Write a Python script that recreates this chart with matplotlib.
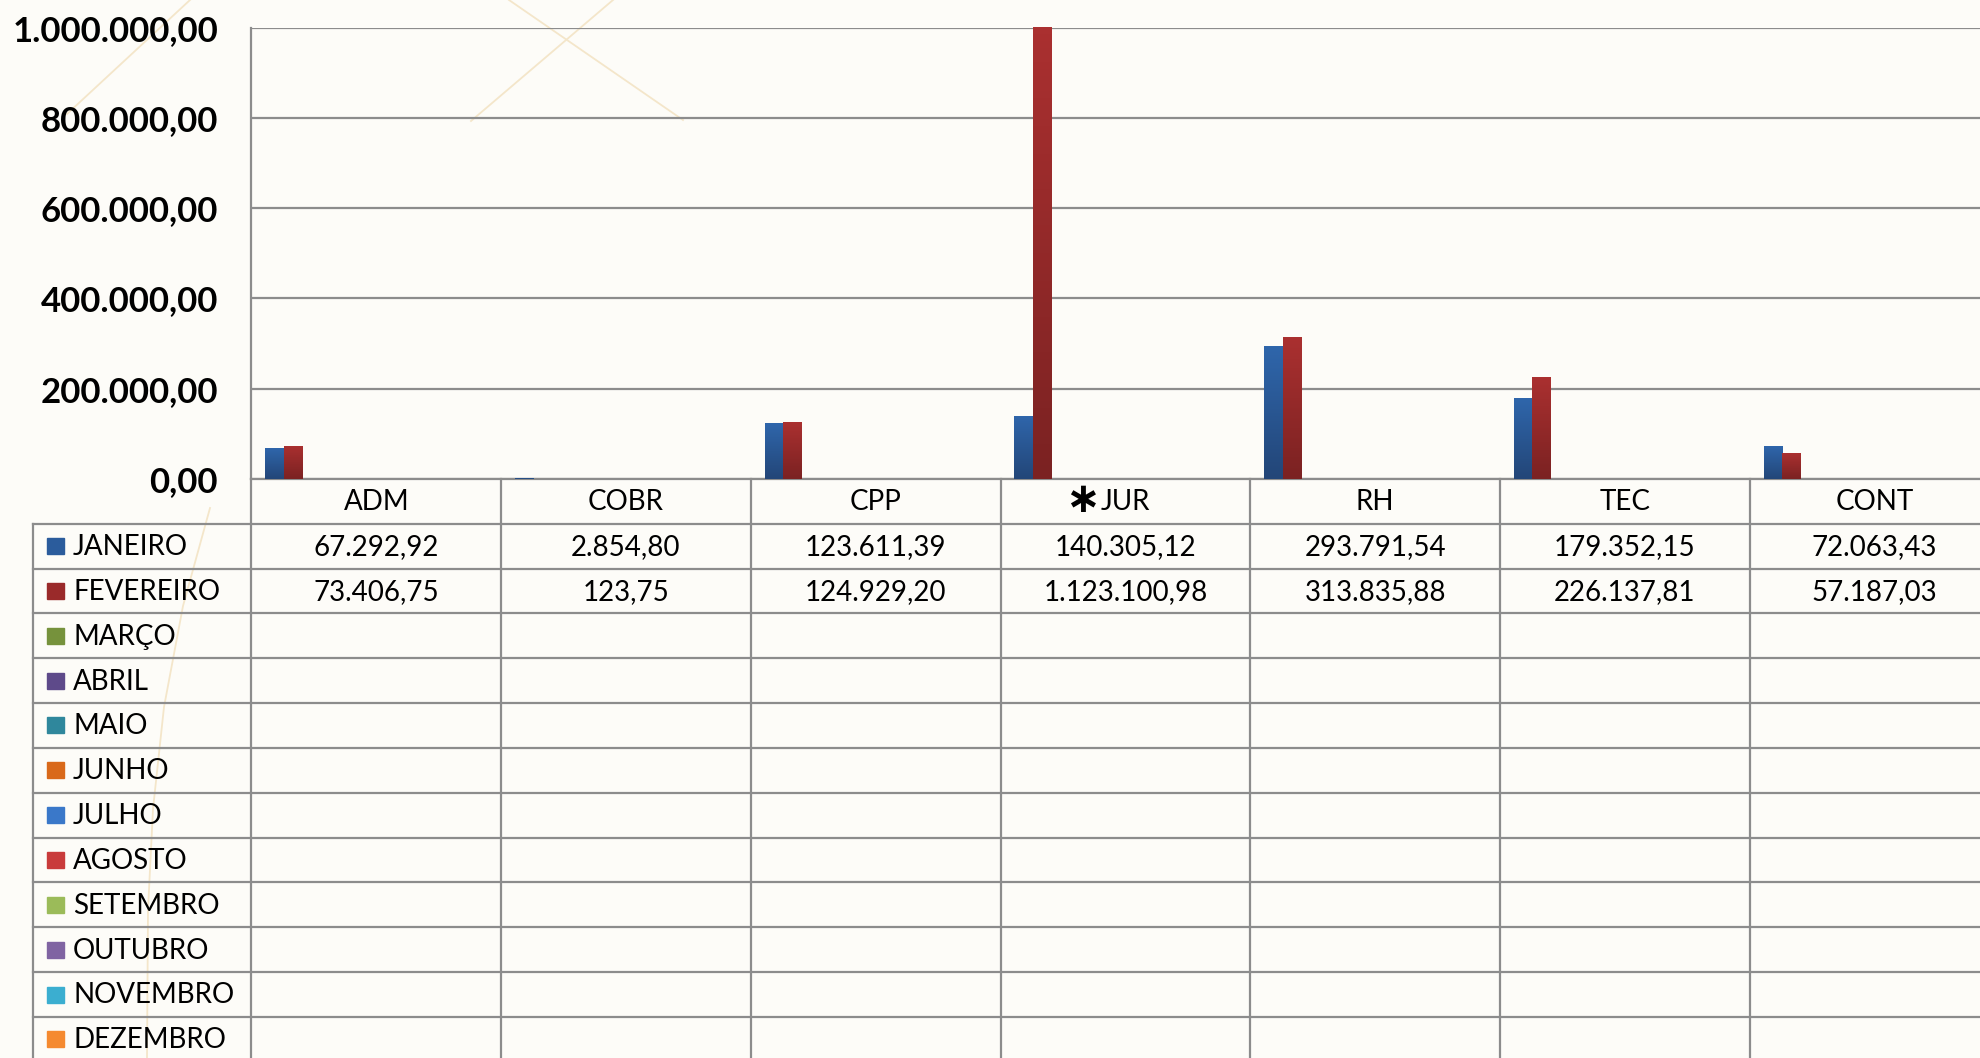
import numpy as np
import matplotlib.pyplot as plt
from matplotlib.ticker import FuncFormatter, MultipleLocator
from matplotlib.lines import Line2D
from matplotlib.patches import Rectangle
from matplotlib.colors import LinearSegmentedColormap

plt.rcParams['font.family'] = ['Lato', 'DejaVu Sans']

# dados
setores = ['ADM', 'COBR', 'CPP', 'JUR', 'RH', 'TEC', 'CONT']
meses = ['JANEIRO', 'FEVEREIRO', 'MARÇO', 'ABRIL', 'MAIO', 'JUNHO',
         'JULHO', 'AGOSTO', 'SETEMBRO', 'OUTUBRO', 'NOVEMBRO', 'DEZEMBRO']
janeiro = [67292.92, 2854.80, 123611.39, 140305.12, 293791.54, 179352.15, 72063.43]
fevereiro = [73406.75, 123.75, 124929.20, 1123100.98, 313835.88, 226137.81, 57187.03]
valores = [janeiro, fevereiro] + [None] * 10

cores_mes = ['#2B5C9C', '#9A2A2A', '#76923C', '#5E4A8A', '#2F879C', '#D9691A',
             '#3A78C9', '#C93B3B', '#9BBB59', '#8064A2', '#3BAED0', '#F58A30']
gradientes = {0: ('#2F66AB', '#234678'), 1: ('#AA3030', '#7B2222')}

W, H = 1981, 1058
bg = '#FDFCF8'
grid_c = '#8C8C8C'


def br(v):
    s = f"{v:,.2f}"
    return s.replace(',', 'X').replace('.', ',').replace('X', '.')


fig = plt.figure(figsize=(W / 100, H / 100), dpi=100, facecolor=bg)

# linhas decorativas do fundo
deco = [[(67, 114), (190, 0)],
        [(471, 121), (613, 0)],
        [(509, 0), (683, 120)],
        [(210, 508), (183, 606), (164, 707), (153, 809), (148, 910), (147, 1058)]]
for pts in deco:
    xs = [p[0] / W for p in pts]
    ys = [1 - p[1] / H for p in pts]
    fig.add_artist(Line2D(xs, ys, transform=fig.transFigure, color='#F4E6CA', lw=1.3, zorder=0))

# geometria (pixels)
left, right = 251.4, 1999.5
top, zero = 27.8, 478.8
row_h = 44.85
cat_w = (right - left) / 7

ax = fig.add_axes([left / W, 1 - zero / H, (right - left) / W, (zero - top) / H])
ax.set_facecolor('none')
ax.set_xlim(0, 7)
ax.set_ylim(0, 1000000)

n = len(meses)
w = 1 / (n + 1.5)
off = 0.75 * w
x = np.arange(len(setores))
for j, vals in enumerate(valores):
    if vals is None:
        continue
    c_top, c_bot = gradientes[j]
    bars = ax.bar(x + off + j * w, vals, width=w, align='edge', color=c_top, zorder=3)
    cmap = LinearSegmentedColormap.from_list('g%d' % j, [c_bot, c_top])
    for b in bars:
        x0 = b.get_x()
        h = min(b.get_height(), 1000000)
        im = ax.imshow(np.linspace(0, 1, 64).reshape(-1, 1), cmap=cmap, origin='lower',
                       extent=[x0, x0 + b.get_width(), 0, h], aspect='auto', zorder=3.5)
        im.set_clip_path(b)
ax.set_xlim(0, 7)
ax.set_ylim(0, 1000000)

ax.yaxis.set_major_locator(MultipleLocator(200000))
ax.yaxis.set_major_formatter(FuncFormatter(lambda v, p: br(v)))
ax.grid(axis='y', color=grid_c, lw=1.6, zorder=1)
ax.set_xticks([])
for s in ['top', 'right']:
    ax.spines[s].set_visible(False)
for s in ['left', 'bottom']:
    ax.spines[s].set_color(grid_c)
    ax.spines[s].set_linewidth(1.6)
ax.tick_params(axis='y', length=0, pad=24)
for t in ax.get_yticklabels():
    t.set_fontsize(25)
    t.set_fontweight('bold')

# tabela de dados
x_leg = -(left - 32.8) / cat_w
tb = fig.add_axes([32.8 / W, 1 - (zero + 13 * row_h) / H, (right - 32.8) / W, 13 * row_h / H])
tb.set_xlim(x_leg, 7)
tb.set_ylim(13, 0)
tb.axis('off')
tb.set_facecolor('none')

for r in range(1, 14):
    tb.plot([x_leg, 7], [r, r], color=grid_c, lw=1.6, clip_on=False)
for c in range(0, 8):
    tb.plot([c, c], [0, 13], color=grid_c, lw=1.6, clip_on=False)
tb.plot([x_leg, x_leg], [1, 13], color=grid_c, lw=1.6, clip_on=False)

fs = 20
for i, s in enumerate(setores):
    tb.text(i + 0.5, 0.52, s, ha='center', va='center', fontsize=fs)
tb.text(3.5 - 0.115, 0.47, r'$\mathbf{\ast}$', ha='right', va='center', fontsize=30)

sw_x = (47 - left) / cat_w
sw_w = 17 / cat_w
sw_h = 16 / row_h
tx = (73 - left) / cat_w
for k, m in enumerate(meses):
    yc = k + 1.5
    tb.add_patch(Rectangle((sw_x, yc - sw_h / 2), sw_w, sw_h, color=cores_mes[k]))
    tb.text(tx, yc + 0.02, m, ha='left', va='center', fontsize=fs)
    if valores[k] is not None:
        for i, v in enumerate(valores[k]):
            tb.text(i + 0.5, yc + 0.02, br(v), ha='center', va='center', fontsize=fs)

fig.savefig('out.png', dpi=100, facecolor=bg)
